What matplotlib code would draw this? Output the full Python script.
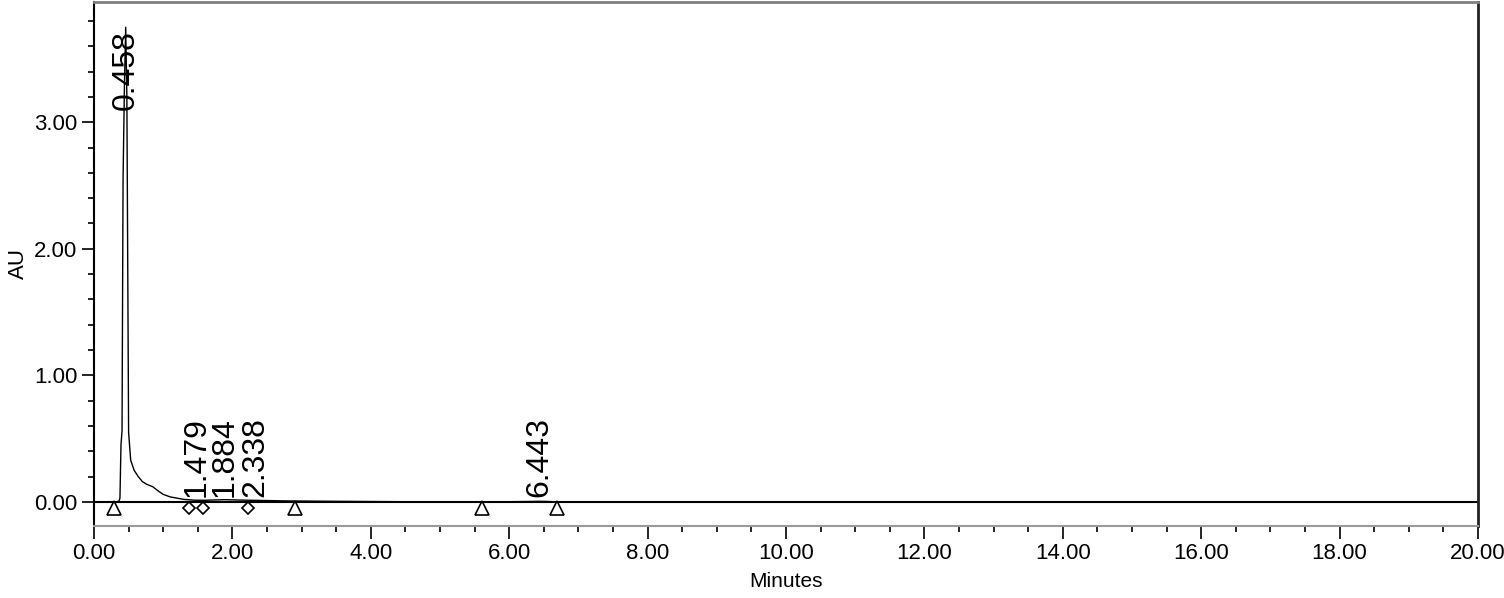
import matplotlib.pyplot as plt
from matplotlib.ticker import MultipleLocator, FormatStrFormatter

plt.rcParams['font.family'] = ['Liberation Sans', 'DejaVu Sans']

# detector trace (minutes, AU)
time_min = [0.00, 0.30, 0.36, 0.375, 0.39, 0.405, 0.42, 0.44, 0.458, 0.475, 0.49, 0.50,
            0.53, 0.58, 0.64, 0.70, 0.76, 0.85, 0.92, 1.00, 1.10, 1.20, 1.30, 1.45,
            1.60, 1.75, 1.90, 2.10, 2.40, 2.80, 3.50, 4.44, 5.00, 6.00, 6.35, 6.443,
            6.55, 6.70, 8.00, 20.00]
absorb = [0.000, 0.000, 0.005, 0.03, 0.45, 0.56, 2.55, 3.30, 3.75, 3.20, 1.60, 0.55,
          0.33, 0.25, 0.20, 0.16, 0.14, 0.12, 0.09, 0.06, 0.04, 0.03, 0.02, 0.014,
          0.013, 0.016, 0.018, 0.015, 0.012, 0.008, 0.005, 0.002, 0.000, 0.002, 0.004,
          0.005, 0.004, 0.000, 0.000, 0.000]

# peak labels
peak_rt = [0.458, 1.479, 1.884, 2.338, 6.443]
peak_h = [3.75, 0.02, 0.02, 0.02, 0.02]

# integration marks
tri_t = [0.29, 2.90, 5.60, 6.69]
dia_t = [1.37, 1.58, 2.23]
mark_y = -0.05

fig = plt.figure(figsize=(15.04, 5.98), dpi=100)
ax = fig.add_axes([0.0625, 0.1204, 0.9202, 0.8763])

ax.plot(time_min, absorb, color='black', lw=1.0)
ax.axhline(0, color='black', lw=1.5)
ax.plot(tri_t, [mark_y] * len(tri_t), ls='none', marker='^', ms=10,
        mfc='white', mec='black', mew=1.2)
ax.plot(dia_t, [mark_y] * len(dia_t), ls='none', marker='D', ms=6.5,
        mfc='white', mec='black', mew=1.2)

for rt, h in zip(peak_rt, peak_h):
    lab = '%.3f' % rt
    if h > 3.0:
        ax.text(rt, h - 0.02, lab, rotation=90, ha='center', va='top', fontsize=23)
    else:
        ax.text(rt, h + 0.02, lab, rotation=90, ha='center', va='bottom', fontsize=23)

ax.set_xlim(0, 20)
ax.set_ylim(-0.19, 3.95)
ax.xaxis.set_major_locator(MultipleLocator(2))
ax.xaxis.set_minor_locator(MultipleLocator(0.5))
ax.yaxis.set_major_locator(MultipleLocator(1))
ax.yaxis.set_minor_locator(MultipleLocator(0.2))
ax.xaxis.set_major_formatter(FormatStrFormatter('%.2f'))
ax.yaxis.set_major_formatter(FormatStrFormatter('%.2f'))
ax.tick_params(axis='both', which='major', direction='out', length=9, width=1.2,
               labelsize=16, colors='black', pad=3)
ax.tick_params(axis='both', which='minor', direction='out', length=4.5, width=1.2)

ax.set_xlabel('Minutes', fontsize=15, labelpad=6)
ax.set_ylabel('AU', fontsize=16)
ax.yaxis.set_label_coords(-0.047, 0.5)

ax.spines['top'].set_color('#808080')
ax.spines['top'].set_linewidth(2)
ax.spines['bottom'].set_color('#9a9a9a')
ax.spines['bottom'].set_linewidth(1.5)
ax.spines['left'].set_color('black')
ax.spines['left'].set_linewidth(1.5)
ax.spines['right'].set_color('#222222')
ax.spines['right'].set_linewidth(2)

fig.savefig('out.png', dpi=100)
